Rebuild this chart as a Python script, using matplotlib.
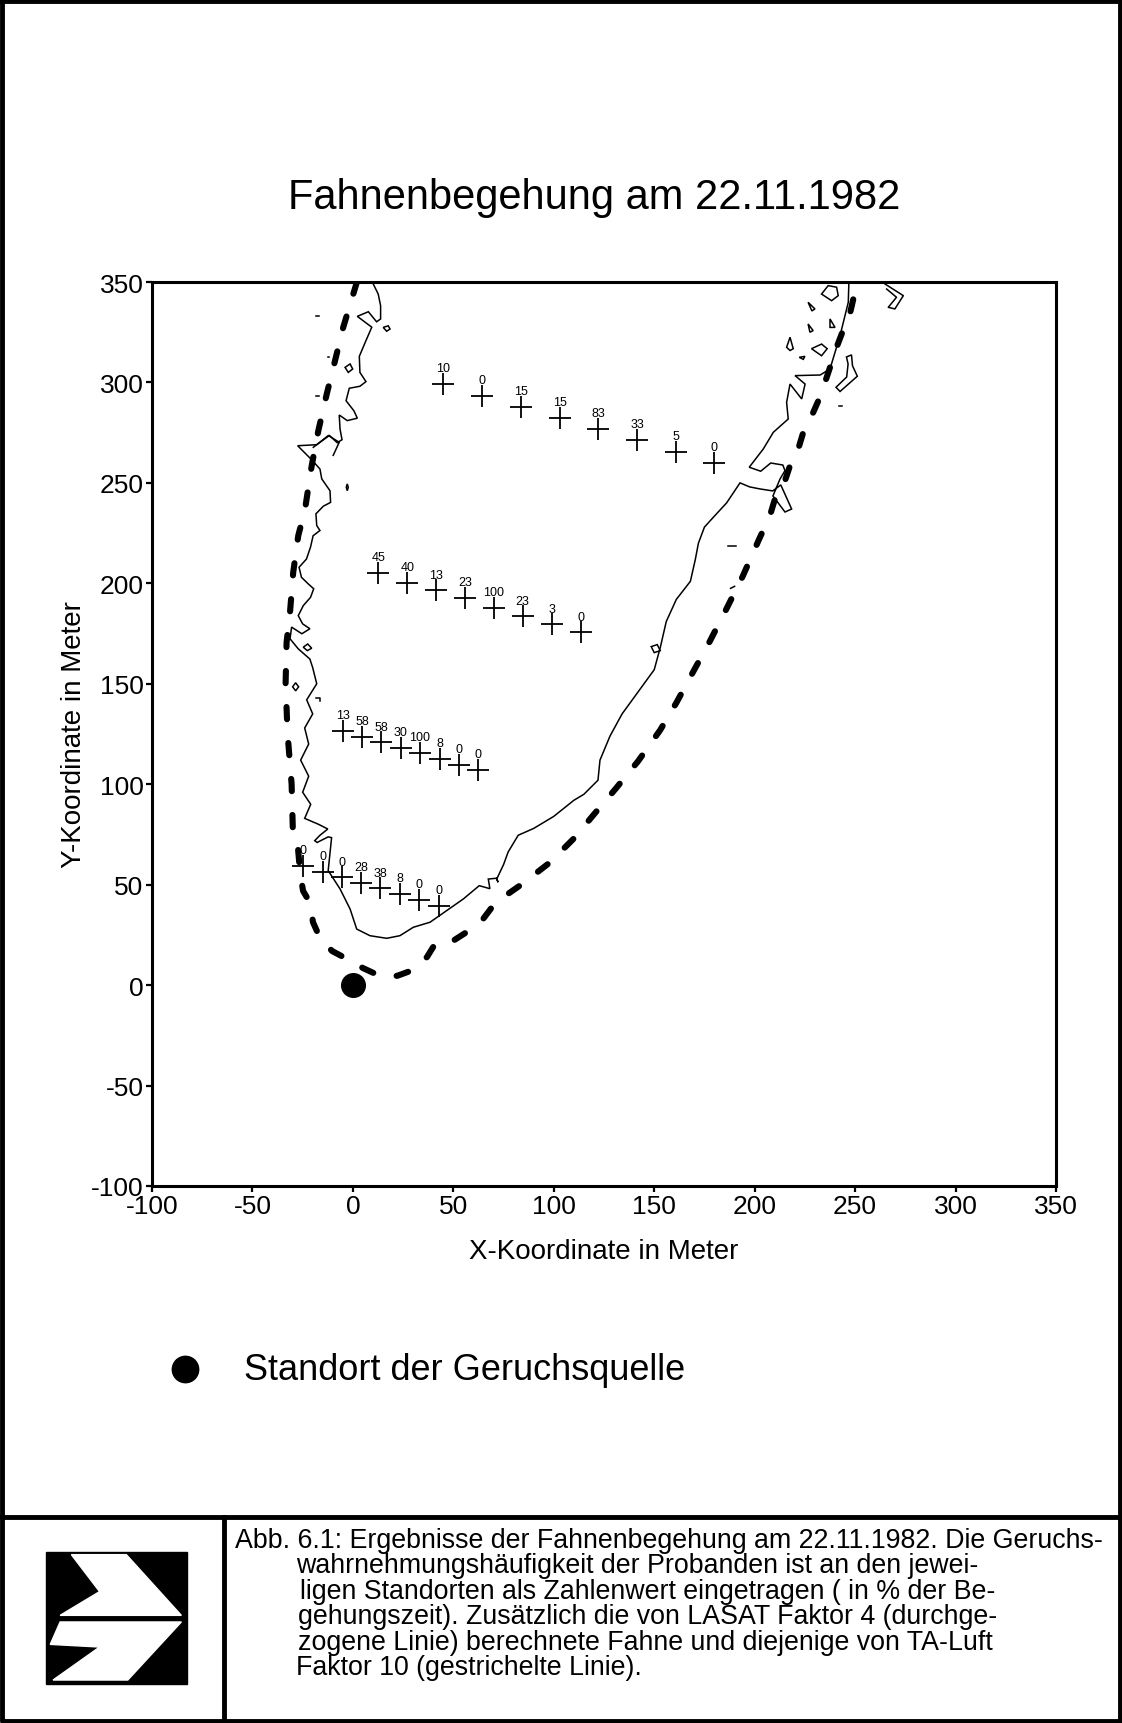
import matplotlib
matplotlib.use('Agg')
import matplotlib.pyplot as plt
from matplotlib import font_manager
from matplotlib.patches import Polygon, Rectangle
from matplotlib.lines import Line2D

# Schriften
installed = {f.name for f in font_manager.fontManager.ttflist}
MAIN_FONT = 'Liberation Sans' if 'Liberation Sans' in installed else 'DejaVu Sans'
NARROW_FONT = 'Liberation Sans Narrow' if 'Liberation Sans Narrow' in installed else MAIN_FONT
plt.rcParams['font.family'] = [MAIN_FONT, 'DejaVu Sans']
plt.rcParams['axes.unicode_minus'] = False

# Messpunkte der Begehung (4 Querschnitte) und Wahrnehmungshaeufigkeit in %
row1_x = [45, 64.3, 83.6, 102.9, 122.2, 141.5, 160.8, 180]
row1_y = [299.2, 293.4, 287.9, 282.3, 276.8, 271.4, 265.5, 259.9]
row1_v = [10, 0, 15, 15, 83, 33, 5, 0]

row2_x = [12.7, 27.1, 41.4, 55.8, 70.2, 84.5, 99.3, 113.5]
row2_y = [205.2, 200.3, 196.5, 192.6, 187.7, 183.6, 179.6, 175.6]
row2_v = [45, 40, 13, 23, 100, 23, 3, 0]

row3_x = [-5.1, 4.7, 14.1, 23.8, 33.4, 43.2, 52.8, 62.4]
row3_y = [126.4, 123.4, 120.9, 118.0, 115.6, 112.6, 109.7, 107.2]
row3_v = [13, 58, 58, 30, 100, 8, 0, 0]

row4_x = [-25, -15, -5.6, 4, 13.6, 23.4, 33.1, 42.9]
row4_y = [59.5, 56.5, 53.7, 50.8, 48.2, 45.4, 42.5, 39.5]
row4_v = [0, 0, 0, 28, 38, 8, 0, 0]

source_x, source_y = 0, 0

# TA-Luft Faktor 10 (gestrichelt)
taluft_x = [2, -4.8, -8.9, -13, -17.2, -20.5, -23.8, -27.2, -29.7, -31.3, -33, -33.5,
            -32.5, -30.5, -29.8, -27.3, -26.3, -24.8, -21, -19.9, -16.4, -10.4, -2.9,
            5, 12.5, 22, 29.9, 36.9, 40.9, 49.8, 56.8, 64.8, 69.7, 77.2, 84.2, 98,
            110, 120, 131, 142, 153, 161, 169.4, 177.6, 185.8, 194, 202, 207.6, 210.1,
            215.1, 217.6, 221.7, 224.2, 228.4, 231.7, 235, 237.5, 240.8, 243.3, 247.4,
            249.1, 251.6]
taluft_y = [350, 327.5, 310.8, 294.3, 276, 258.6, 237, 223.7, 205.5, 185.6, 170.7, 150,
            125, 100, 73.7, 67.8, 56.3, 46.9, 40.4, 31.4, 23.5, 17, 13,
            8.5, 5, 4.6, 7.5, 14, 20.5, 22, 26.5, 32.9, 39.4, 45.4, 50.3, 61,
            73, 85, 98, 111.5, 127, 140.5, 156, 171, 187, 203.4, 221.5, 233.7, 242,
            251.1, 258.6, 266.9, 275.2, 283.4, 290.9, 300, 307.5, 317.5, 324.1, 334.1,
            341.5, 350]

# LASAT Faktor 4 (durchgezogen), Hauptlinie
lasat_x = [9.9, 12.6, 13.8, 13.8, 11.8, 7.7, 2.2, 9.4, 6.5, 3.2, 3.5, 6.5, 3.5, -1.8,
           -3.4, 0.5, 2.2, -2.8, -6.8, -6.4, -5.4, -7.8, -11.7, -18, -27.5, -20.5,
           -16.4, -15.5, -11.4, -11.1, -14.7, -18.4, -18, -16.4, -19.8, -21.1, -23.1,
           -26.8, -25.6, -22.2, -19.5, -21.1, -24.7, -27.2, -25, -21.4, -25.4, -30.5,
           -31.3, -27.2, -21.4, -20, -18, -23, -20, -24, -22, -26, -22, -25, -21, -24,
           -17, -12.5, -16.5, -19, -17.8, -12.3, -10.6, -12.3, -6.4, -1.4, 1.9, 8.5,
           16.8, 23.4, 30.1, 38.4, 46.7, 55, 62.9, 68.2, 67.4, 71.5, 72.3, 71.6, 75,
           77.3, 82.3, 90, 100, 110, 115, 122, 123, 128, 134, 142, 150, 153, 156, 161,
           168, 170.4, 172, 175, 180, 186, 192.7, 197.5, 202.6, 209, 213, 218.4, 215.1,
           209.1, 212.6, 215.1, 214, 208, 203, 197.3, 204.3, 209.3, 216.7, 215.9, 217.6,
           223.4, 225.1, 220.1, 232.6, 237.5, 242.5, 246.6, 246.9]
lasat_y = [349.5, 344, 338.2, 331.6, 330.2, 335.2, 332.9, 327.5, 320.8, 313, 305, 300.4,
           298.1, 297.1, 290.9, 285.9, 282.2, 281, 283.8, 276.8, 271.5, 270, 273.6, 269,
           268.5, 261.5, 256.9, 252, 246.1, 240.3, 238.4, 234.6, 228.8, 226.3, 223.7,
           218, 212.1, 208, 203, 199.7, 197.3, 193, 188.9, 183.9, 179.8, 177.4, 174.9,
           178.2, 172.4, 167.4, 162.3, 158, 150, 142, 135, 128, 120, 112, 104, 96, 90,
           83, 80, 77.7, 74.5, 71.9, 71, 73.8, 73.4, 57, 47.9, 37.9, 27.9, 24.6, 23.3,
           24.6, 28.8, 31.3, 37.1, 42.9, 49.5, 48, 52.8, 53.2, 51.2, 52.8, 60, 66.3,
           74.6, 78, 84, 92, 95, 102, 112, 124, 135, 146, 157, 168, 181, 192, 201, 211.6,
           220, 228, 233.5, 240, 250, 248, 247, 246, 249, 237, 235.5, 243.5, 251.9, 256.1,
           258.9, 259.9, 255.8, 257.8, 266.9, 275.2, 281.8, 290.1, 299.2, 291.8, 299.2,
           303.4, 303.7, 306.7, 323.3, 339.9, 350]

# kleine Inseln der LASAT-Linie (geschlossene Polygone)
islands = [
    ([233.3, 236.6, 240.8, 241.6, 238.3], [344, 348.2, 347.4, 343.2, 340.7]),
    ([226.6, 230, 228.5], [339.9, 336.6, 335.6]),
    ([226.6, 229.1, 227.5], [329.1, 325.8, 325]),
    ([237.5, 240, 237.5], [331.6, 327.4, 327.4]),
    ([215.9, 217.6, 219.2, 217.6], [317.5, 322.5, 316.8, 315.9]),
    ([228.3, 233.3, 236.1, 233.3], [316.8, 319.1, 316.8, 313.3]),
    ([222.2, 225, 224.2], [312.5, 313, 311.5]),
    ([245.7, 248.2, 248.7, 251.1, 242.5, 240.5, 245.8, 246.5], [312.7, 313.7, 308.3, 303.1, 295.5, 297.6, 302.7, 309.2]),
    ([15.1, 17.6, 18.5, 16.8], [327.4, 328.2, 326.6, 325.5]),
    ([-3.9, -1.4, -0.1, -2.3], [307.5, 309.2, 306.7, 305]),
    ([-3.3, -2.8, -2.3, -2.8], [247.8, 249.5, 247.8, 246.1]),
    ([-24.7, -22.5, -20.5, -22.7], [168.2, 169.8, 167.7, 166.5]),
    ([-30, -28.5, -27, -28.5], [148.5, 150.5, 148.5, 146.5]),
    ([148.5, 151.5, 153, 150], [168.5, 169.5, 166.5, 165.5]),
]
# offene Linienstuecke
segments = [
    ([264.9, 274, 269.8, 266.5, 270.6, 265.7], [349, 343.2, 336.6, 337.4, 342.4, 346.5]),
    ([-19.7, -12.2, -6.8, -9.8], [267.7, 273.6, 270.2, 263.7]),
    ([-18.5, -16.8], [333.2, 333.2]),
    ([-18.5, -16.8], [293.4, 293.4]),
    ([-12.6, -11.8], [312.5, 312.5]),
    ([242, 243.5], [288.4, 288.4]),
    ([-18.5, -16.5, -16.5], [143.1, 143.1, 141.5]),
    ([186.5, 190.5], [218.5, 218.5]),
    ([188, 190], [197.5, 198.5]),
]

tick_vals = [-100, -50, 0, 50, 100, 150, 200, 250, 300, 350]

caption_lines = [
    'Abb. 6.1: Ergebnisse der Fahnenbegehung am 22.11.1982. Die Geruchs-',
    'wahrnehmungshäufigkeit der Probanden ist an den jewei-',
    'ligen Standorten als Zahlenwert eingetragen ( in % der Be-',
    'gehungszeit). Zusätzlich die von LASAT Faktor 4 (durchge-',
    'zogene Linie) berechnete Fahne und diejenige von TA-Luft',
    'Faktor 10 (gestrichelte Linie).',
]

W, H = 1122, 1724
fig = plt.figure(figsize=(W / 100, H / 100), dpi=100)
ax = fig.add_axes([152 / W, 1 - 1187 / H, 904 / W, 904 / H])

# Linien
ax.plot(lasat_x, lasat_y, color='black', lw=1.1, solid_joinstyle='miter')
for xs, ys in islands:
    ax.add_patch(Polygon(list(zip(xs, ys)), closed=True, fill=False, ec='black', lw=1.1))
for xs, ys in segments:
    ax.plot(xs, ys, color='black', lw=1.1)

ax.plot(taluft_x, taluft_y, color='black', lw=4.4, dashes=(2.0, 3.9),
        dash_capstyle='round', solid_capstyle='round')

# Messpunkte
for xs, ys, vs in [(row1_x, row1_y, row1_v), (row2_x, row2_y, row2_v),
                   (row3_x, row3_y, row3_v), (row4_x, row4_y, row4_v)]:
    ax.plot(xs, ys, linestyle='none', marker='+', ms=16, mew=1.3, color='black')
    for x, y, v in zip(xs, ys, vs):
        ax.annotate(str(v), (x, y), xytext=(0, 7), textcoords='offset points',
                    ha='center', va='bottom', fontsize=9)

# Geruchsquelle
ax.plot([source_x], [source_y], marker='o', ms=17, color='black', linestyle='none')

ax.set_xlim(-100, 350)
ax.set_ylim(-100, 350)
ax.set_xticks(tick_vals)
ax.set_yticks(tick_vals)
ax.tick_params(direction='out', length=4, width=1.6, labelsize=19, pad=2,
               top=False, right=False)
for sp in ax.spines.values():
    sp.set_linewidth(2.2)
ax.set_xlabel('X-Koordinate in Meter', fontsize=20, labelpad=14)
ax.set_ylabel('Y-Koordinate in Meter', fontsize=20, labelpad=3)

fig.text(594 / W, 1 - 198 / H, 'Fahnenbegehung am 22.11.1982', ha='center',
         va='center', fontsize=30)

# Legende
fig.add_artist(Line2D([185 / W], [1 - 1370 / H], marker='o', ms=19, color='black',
                      linestyle='none'))
fig.text(244 / W, 1 - 1370 / H, 'Standort der Geruchsquelle', ha='left', va='center',
         fontsize=26)

# Rahmen der Seite
frame_kw = dict(color='black', lw=3.5, transform=fig.transFigure)
fig.add_artist(Line2D([0.002, 0.998, 0.998, 0.002, 0.002],
                      [0.999, 0.999, 0.001, 0.001, 0.999], **frame_kw))
fig.add_artist(Line2D([0, 1], [1 - 1518 / H, 1 - 1518 / H], **frame_kw))
fig.add_artist(Line2D([224 / W, 224 / W], [1 - 1518 / H, 0], **frame_kw))

# Logo
bx0, by0, bw, bh = 46, 1553, 141, 132
def logo_pt(u, v):
    return ((bx0 + u * bw) / W, 1 - (by0 + v * bh) / H)
fig.add_artist(Rectangle(logo_pt(0, 1), bw / W, bh / H, transform=fig.transFigure,
                         color='black'))
upper = [(0.18, 0.02), (0.57, 0.02), (0.96, 0.48), (0.10, 0.48), (0.38, 0.30)]
lower = [(0.10, 0.53), (0.96, 0.53), (0.58, 0.97), (0.05, 0.97), (0.38, 0.72), (0.03, 0.70)]
for shape in (upper, lower):
    fig.add_artist(Polygon([logo_pt(u, v) for u, v in shape], closed=True,
                           transform=fig.transFigure, color='white'))

# Bildunterschrift
indent = [235, 296, 300, 298, 298, 296]
for i, line in enumerate(caption_lines):
    fig.text(indent[i] / W, 1 - (1541 + i * 25.5) / H, line, ha='left', va='center',
             fontsize=19.3, family=[NARROW_FONT, 'DejaVu Sans'])

fig.savefig('out.png', dpi=100)
